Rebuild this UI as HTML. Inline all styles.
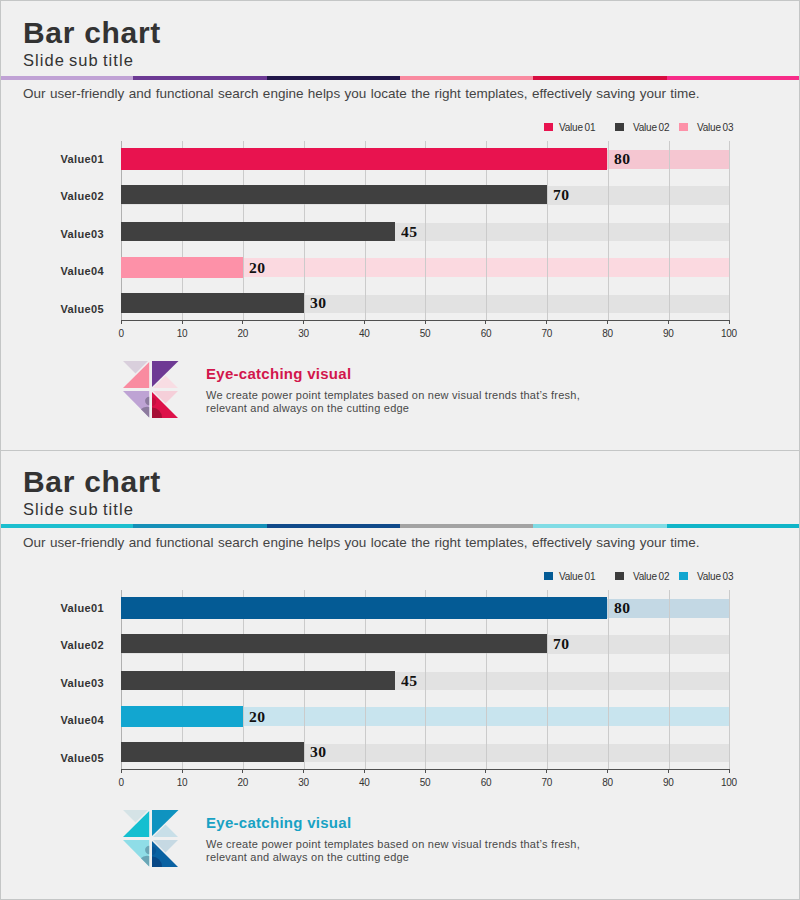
<!DOCTYPE html>
<html><head><meta charset="utf-8"><style>
html,body{margin:0;padding:0;}
body{width:800px;height:900px;position:relative;overflow:hidden;background:#f0f0f0;font-family:"Liberation Sans",sans-serif;}
.b{position:absolute;}
.t{position:absolute;white-space:nowrap;}
.logo{position:absolute;}
.title{font-size:30px;font-weight:bold;color:#333;line-height:36px;letter-spacing:0.7px;}
.sub{font-size:16.5px;color:#333;line-height:20px;letter-spacing:1.05px;word-spacing:-1.5px;}
.desc{font-size:13.5px;color:#444;line-height:16px;word-spacing:0.7px;}
.leg{font-size:10px;color:#333;line-height:12px;word-spacing:-0.8px;letter-spacing:-0.2px;}
.cat{font-size:11px;font-weight:bold;color:#333;line-height:14px;letter-spacing:0.35px;}
.val{font-family:"Liberation Serif",serif;font-size:15px;font-weight:bold;color:#111;line-height:18px;letter-spacing:0.5px;transform:scaleX(1.04);transform-origin:0 0;}
.tick{font-size:10px;color:#333;line-height:12px;width:40px;text-align:center;letter-spacing:-0.3px;}
.ec{font-size:15px;font-weight:bold;line-height:18px;letter-spacing:0.28px;}
.para{font-size:11px;color:#484848;line-height:13px;letter-spacing:0.24px;}
</style></head><body>
<div class="b" style="left:0px;top:76px;width:133px;height:4px;background:#c0a2d5"></div>
<div class="b" style="left:133px;top:76px;width:134px;height:4px;background:#6c3a94"></div>
<div class="b" style="left:267px;top:76px;width:133px;height:4px;background:#22174a"></div>
<div class="b" style="left:400px;top:76px;width:133px;height:4px;background:#f98aa0"></div>
<div class="b" style="left:533px;top:76px;width:134px;height:4px;background:#d80d40"></div>
<div class="b" style="left:667px;top:76px;width:133px;height:4px;background:#f72c88"></div>
<div class="t title" style="left:23px;top:15px">Bar chart</div>
<div class="t sub" style="left:23px;top:50px">Slide sub title</div>
<div class="t desc" style="left:23px;top:86px">Our user-friendly and functional search engine helps you locate the right templates, effectively saving your time.</div>
<div class="b" style="left:544px;top:123px;width:9px;height:8px;background:#e8134f"></div>
<div class="t leg" style="left:559px;top:121.5px">Value 01</div>
<div class="b" style="left:615px;top:123px;width:9px;height:8px;background:#3c3c3c"></div>
<div class="t leg" style="left:633px;top:121.5px">Value 02</div>
<div class="b" style="left:679px;top:123px;width:9px;height:8px;background:#fd91a8"></div>
<div class="t leg" style="left:697px;top:121.5px">Value 03</div>
<div class="b" style="left:121.75px;top:150px;width:607.25px;height:19px;background:#f5c6d1"></div>
<div class="b" style="left:121.75px;top:186px;width:607.25px;height:19px;background:#e2e2e2"></div>
<div class="b" style="left:121.75px;top:223px;width:607.25px;height:18px;background:#e2e2e2"></div>
<div class="b" style="left:121.75px;top:258px;width:607.25px;height:19px;background:#fbd9e0"></div>
<div class="b" style="left:121.75px;top:295px;width:607.25px;height:18px;background:#e2e2e2"></div>
<div class="b" style="left:181.5px;top:141px;width:1px;height:180px;background:#cbcbcb"></div>
<div class="b" style="left:242.5px;top:141px;width:1px;height:180px;background:#cbcbcb"></div>
<div class="b" style="left:303.5px;top:141px;width:1px;height:180px;background:#cbcbcb"></div>
<div class="b" style="left:364.5px;top:141px;width:1px;height:180px;background:#cbcbcb"></div>
<div class="b" style="left:424.5px;top:141px;width:1px;height:180px;background:#cbcbcb"></div>
<div class="b" style="left:485.5px;top:141px;width:1px;height:180px;background:#cbcbcb"></div>
<div class="b" style="left:546.5px;top:141px;width:1px;height:180px;background:#cbcbcb"></div>
<div class="b" style="left:607.5px;top:141px;width:1px;height:180px;background:#cbcbcb"></div>
<div class="b" style="left:668.5px;top:141px;width:1px;height:180px;background:#cbcbcb"></div>
<div class="b" style="left:728.5px;top:141px;width:1px;height:180px;background:#cbcbcb"></div>
<div class="b" style="left:121px;top:141px;width:1px;height:183px;background:#b0b0b0"></div>
<div class="b" style="left:121px;top:148px;width:486.45px;height:22px;background:#e8134f"></div>
<div class="t val" style="left:614.05px;top:150.0px">80</div>
<div class="t cat" style="left:60.5px;top:151.5px">Value01</div>
<div class="b" style="left:121px;top:185px;width:425.67px;height:19px;background:#404040"></div>
<div class="t val" style="left:553.27px;top:185.5px">70</div>
<div class="t cat" style="left:60.5px;top:189.0px">Value02</div>
<div class="b" style="left:121px;top:222px;width:273.74px;height:19px;background:#404040"></div>
<div class="t val" style="left:401.34px;top:222.5px">45</div>
<div class="t cat" style="left:60.5px;top:226.5px">Value03</div>
<div class="b" style="left:121px;top:257px;width:121.80px;height:21px;background:#fd91a8"></div>
<div class="t val" style="left:249.40px;top:258.5px">20</div>
<div class="t cat" style="left:60.5px;top:264.0px">Value04</div>
<div class="b" style="left:121px;top:293px;width:182.57px;height:20px;background:#404040"></div>
<div class="t val" style="left:310.18px;top:294.0px">30</div>
<div class="t cat" style="left:60.5px;top:301.5px">Value05</div>
<div class="b" style="left:120.75px;top:320px;width:608.75px;height:1px;background:#505050"></div>
<div class="b" style="left:120.75px;top:320px;width:1px;height:4px;background:#505050"></div>
<div class="t tick" style="left:101.25px;top:328px">0</div>
<div class="b" style="left:181.53px;top:320px;width:1px;height:4px;background:#505050"></div>
<div class="t tick" style="left:162.03px;top:328px">10</div>
<div class="b" style="left:242.30px;top:320px;width:1px;height:4px;background:#505050"></div>
<div class="t tick" style="left:222.80px;top:328px">20</div>
<div class="b" style="left:303.07px;top:320px;width:1px;height:4px;background:#505050"></div>
<div class="t tick" style="left:283.57px;top:328px">30</div>
<div class="b" style="left:363.85px;top:320px;width:1px;height:4px;background:#505050"></div>
<div class="t tick" style="left:344.35px;top:328px">40</div>
<div class="b" style="left:424.62px;top:320px;width:1px;height:4px;background:#505050"></div>
<div class="t tick" style="left:405.12px;top:328px">50</div>
<div class="b" style="left:485.40px;top:320px;width:1px;height:4px;background:#505050"></div>
<div class="t tick" style="left:465.90px;top:328px">60</div>
<div class="b" style="left:546.17px;top:320px;width:1px;height:4px;background:#505050"></div>
<div class="t tick" style="left:526.67px;top:328px">70</div>
<div class="b" style="left:606.95px;top:320px;width:1px;height:4px;background:#505050"></div>
<div class="t tick" style="left:587.45px;top:328px">80</div>
<div class="b" style="left:667.73px;top:320px;width:1px;height:4px;background:#505050"></div>
<div class="t tick" style="left:648.23px;top:328px">90</div>
<div class="b" style="left:728.50px;top:320px;width:1px;height:4px;background:#505050"></div>
<div class="t tick" style="left:709.00px;top:328px">100</div>
<svg class="logo" style="left:123px;top:361px" width="56" height="58" viewBox="0 0 56 58">
<defs><clipPath id="bla"><polygon points="0,30 26.2,30 26.2,56.5"/></clipPath><clipPath id="bra"><polygon points="29,31 29,57 55,57"/></clipPath></defs>
<polygon points="0,0 25,0 12.5,12.5" fill="#d9cfdc"/>
<polygon points="0,27 26.2,27 26.2,1" fill="#f98ba0"/>
<polygon points="29,0 55.5,0 29,26" fill="#6e3a94"/>
<polygon points="30,27 55,27 42.5,14.5" fill="#f8dde3"/>
<polygon points="0,30 26.2,30 26.2,56.5" fill="#bea3d4"/>
<g clip-path="url(#bla)"><circle cx="26.3" cy="40" r="4.2" fill="#8c7a9e"/><circle cx="24" cy="55" r="9.3" fill="#8c7a9e"/></g>
<polygon points="30,30 55,30 42.5,42.5" fill="#f5cfd9"/>
<polygon points="29,31 29,57 55,57" fill="#dd1149"/>
<g clip-path="url(#bra)"><circle cx="29" cy="40.7" r="4.2" fill="#a60f36" opacity="0.45"/><circle cx="29" cy="56.5" r="10" fill="#a60f36"/></g>
</svg>
<div class="t ec" style="left:206px;top:364.5px;color:#d2164c">Eye-catching visual</div>
<div class="t para" style="left:206px;top:389px">We create power point templates based on new visual trends that’s fresh,<br>relevant and always on the cutting edge</div>
<div class="b" style="left:0px;top:524px;width:133px;height:4px;background:#1cbfcf"></div>
<div class="b" style="left:133px;top:524px;width:134px;height:4px;background:#1590b8"></div>
<div class="b" style="left:267px;top:524px;width:133px;height:4px;background:#104a8a"></div>
<div class="b" style="left:400px;top:524px;width:133px;height:4px;background:#a3a3a3"></div>
<div class="b" style="left:533px;top:524px;width:134px;height:4px;background:#80dce5"></div>
<div class="b" style="left:667px;top:524px;width:133px;height:4px;background:#10b5c8"></div>
<div class="t title" style="left:23px;top:464px">Bar chart</div>
<div class="t sub" style="left:23px;top:499px">Slide sub title</div>
<div class="t desc" style="left:23px;top:535px">Our user-friendly and functional search engine helps you locate the right templates, effectively saving your time.</div>
<div class="b" style="left:544px;top:572px;width:9px;height:8px;background:#045b95"></div>
<div class="t leg" style="left:559px;top:570.5px">Value 01</div>
<div class="b" style="left:615px;top:572px;width:9px;height:8px;background:#3c3c3c"></div>
<div class="t leg" style="left:633px;top:570.5px">Value 02</div>
<div class="b" style="left:679px;top:572px;width:9px;height:8px;background:#12a6d0"></div>
<div class="t leg" style="left:697px;top:570.5px">Value 03</div>
<div class="b" style="left:121.75px;top:599px;width:607.25px;height:19px;background:#c3d8e4"></div>
<div class="b" style="left:121.75px;top:635px;width:607.25px;height:19px;background:#e2e2e2"></div>
<div class="b" style="left:121.75px;top:672px;width:607.25px;height:18px;background:#e2e2e2"></div>
<div class="b" style="left:121.75px;top:707px;width:607.25px;height:19px;background:#c8e4ee"></div>
<div class="b" style="left:121.75px;top:744px;width:607.25px;height:18px;background:#e2e2e2"></div>
<div class="b" style="left:181.5px;top:590px;width:1px;height:180px;background:#cbcbcb"></div>
<div class="b" style="left:242.5px;top:590px;width:1px;height:180px;background:#cbcbcb"></div>
<div class="b" style="left:303.5px;top:590px;width:1px;height:180px;background:#cbcbcb"></div>
<div class="b" style="left:364.5px;top:590px;width:1px;height:180px;background:#cbcbcb"></div>
<div class="b" style="left:424.5px;top:590px;width:1px;height:180px;background:#cbcbcb"></div>
<div class="b" style="left:485.5px;top:590px;width:1px;height:180px;background:#cbcbcb"></div>
<div class="b" style="left:546.5px;top:590px;width:1px;height:180px;background:#cbcbcb"></div>
<div class="b" style="left:607.5px;top:590px;width:1px;height:180px;background:#cbcbcb"></div>
<div class="b" style="left:668.5px;top:590px;width:1px;height:180px;background:#cbcbcb"></div>
<div class="b" style="left:728.5px;top:590px;width:1px;height:180px;background:#cbcbcb"></div>
<div class="b" style="left:121px;top:590px;width:1px;height:183px;background:#b0b0b0"></div>
<div class="b" style="left:121px;top:597px;width:486.45px;height:22px;background:#045b95"></div>
<div class="t val" style="left:614.05px;top:599.0px">80</div>
<div class="t cat" style="left:60.5px;top:600.5px">Value01</div>
<div class="b" style="left:121px;top:634px;width:425.67px;height:19px;background:#404040"></div>
<div class="t val" style="left:553.27px;top:634.5px">70</div>
<div class="t cat" style="left:60.5px;top:638.0px">Value02</div>
<div class="b" style="left:121px;top:671px;width:273.74px;height:19px;background:#404040"></div>
<div class="t val" style="left:401.34px;top:671.5px">45</div>
<div class="t cat" style="left:60.5px;top:675.5px">Value03</div>
<div class="b" style="left:121px;top:706px;width:121.80px;height:21px;background:#12a6d0"></div>
<div class="t val" style="left:249.40px;top:707.5px">20</div>
<div class="t cat" style="left:60.5px;top:713.0px">Value04</div>
<div class="b" style="left:121px;top:742px;width:182.57px;height:20px;background:#404040"></div>
<div class="t val" style="left:310.18px;top:743.0px">30</div>
<div class="t cat" style="left:60.5px;top:750.5px">Value05</div>
<div class="b" style="left:120.75px;top:769px;width:608.75px;height:1px;background:#505050"></div>
<div class="b" style="left:120.75px;top:769px;width:1px;height:4px;background:#505050"></div>
<div class="t tick" style="left:101.25px;top:777px">0</div>
<div class="b" style="left:181.53px;top:769px;width:1px;height:4px;background:#505050"></div>
<div class="t tick" style="left:162.03px;top:777px">10</div>
<div class="b" style="left:242.30px;top:769px;width:1px;height:4px;background:#505050"></div>
<div class="t tick" style="left:222.80px;top:777px">20</div>
<div class="b" style="left:303.07px;top:769px;width:1px;height:4px;background:#505050"></div>
<div class="t tick" style="left:283.57px;top:777px">30</div>
<div class="b" style="left:363.85px;top:769px;width:1px;height:4px;background:#505050"></div>
<div class="t tick" style="left:344.35px;top:777px">40</div>
<div class="b" style="left:424.62px;top:769px;width:1px;height:4px;background:#505050"></div>
<div class="t tick" style="left:405.12px;top:777px">50</div>
<div class="b" style="left:485.40px;top:769px;width:1px;height:4px;background:#505050"></div>
<div class="t tick" style="left:465.90px;top:777px">60</div>
<div class="b" style="left:546.17px;top:769px;width:1px;height:4px;background:#505050"></div>
<div class="t tick" style="left:526.67px;top:777px">70</div>
<div class="b" style="left:606.95px;top:769px;width:1px;height:4px;background:#505050"></div>
<div class="t tick" style="left:587.45px;top:777px">80</div>
<div class="b" style="left:667.73px;top:769px;width:1px;height:4px;background:#505050"></div>
<div class="t tick" style="left:648.23px;top:777px">90</div>
<div class="b" style="left:728.50px;top:769px;width:1px;height:4px;background:#505050"></div>
<div class="t tick" style="left:709.00px;top:777px">100</div>
<svg class="logo" style="left:123px;top:810px" width="56" height="58" viewBox="0 0 56 58">
<defs><clipPath id="blb"><polygon points="0,30 26.2,30 26.2,56.5"/></clipPath><clipPath id="brb"><polygon points="29,31 29,57 55,57"/></clipPath></defs>
<polygon points="0,0 25,0 12.5,12.5" fill="#d5e3e6"/>
<polygon points="0,27 26.2,27 26.2,1" fill="#14bfd0"/>
<polygon points="29,0 55.5,0 29,26" fill="#0f93c0"/>
<polygon points="30,27 55,27 42.5,14.5" fill="#c8dfe8"/>
<polygon points="0,30 26.2,30 26.2,56.5" fill="#8fdde7"/>
<g clip-path="url(#blb)"><circle cx="26.3" cy="40" r="4.2" fill="#6aa6b6"/><circle cx="24" cy="55" r="9.3" fill="#6aa6b6"/></g>
<polygon points="30,30 55,30 42.5,42.5" fill="#c6d9e3"/>
<polygon points="29,31 29,57 55,57" fill="#0a62a2"/>
<g clip-path="url(#brb)"><circle cx="29" cy="40.7" r="4.2" fill="#084886" opacity="0.45"/><circle cx="29" cy="56.5" r="10" fill="#084886"/></g>
</svg>
<div class="t ec" style="left:206px;top:813.5px;color:#18a2c4">Eye-catching visual</div>
<div class="t para" style="left:206px;top:838px">We create power point templates based on new visual trends that’s fresh,<br>relevant and always on the cutting edge</div>
<div class="b" style="left:0;top:0;width:800px;height:1px;background:#c4c6c6"></div>
<div class="b" style="left:0;top:0;width:1px;height:900px;background:#c4c6c6"></div>
<div class="b" style="left:799px;top:0;width:1px;height:900px;background:#c4c6c6"></div>
<div class="b" style="left:0;top:899px;width:800px;height:1px;background:#c4c6c6"></div>
<div class="b" style="left:0;top:450px;width:800px;height:1px;background:#c4c6c6"></div>
</body></html>
